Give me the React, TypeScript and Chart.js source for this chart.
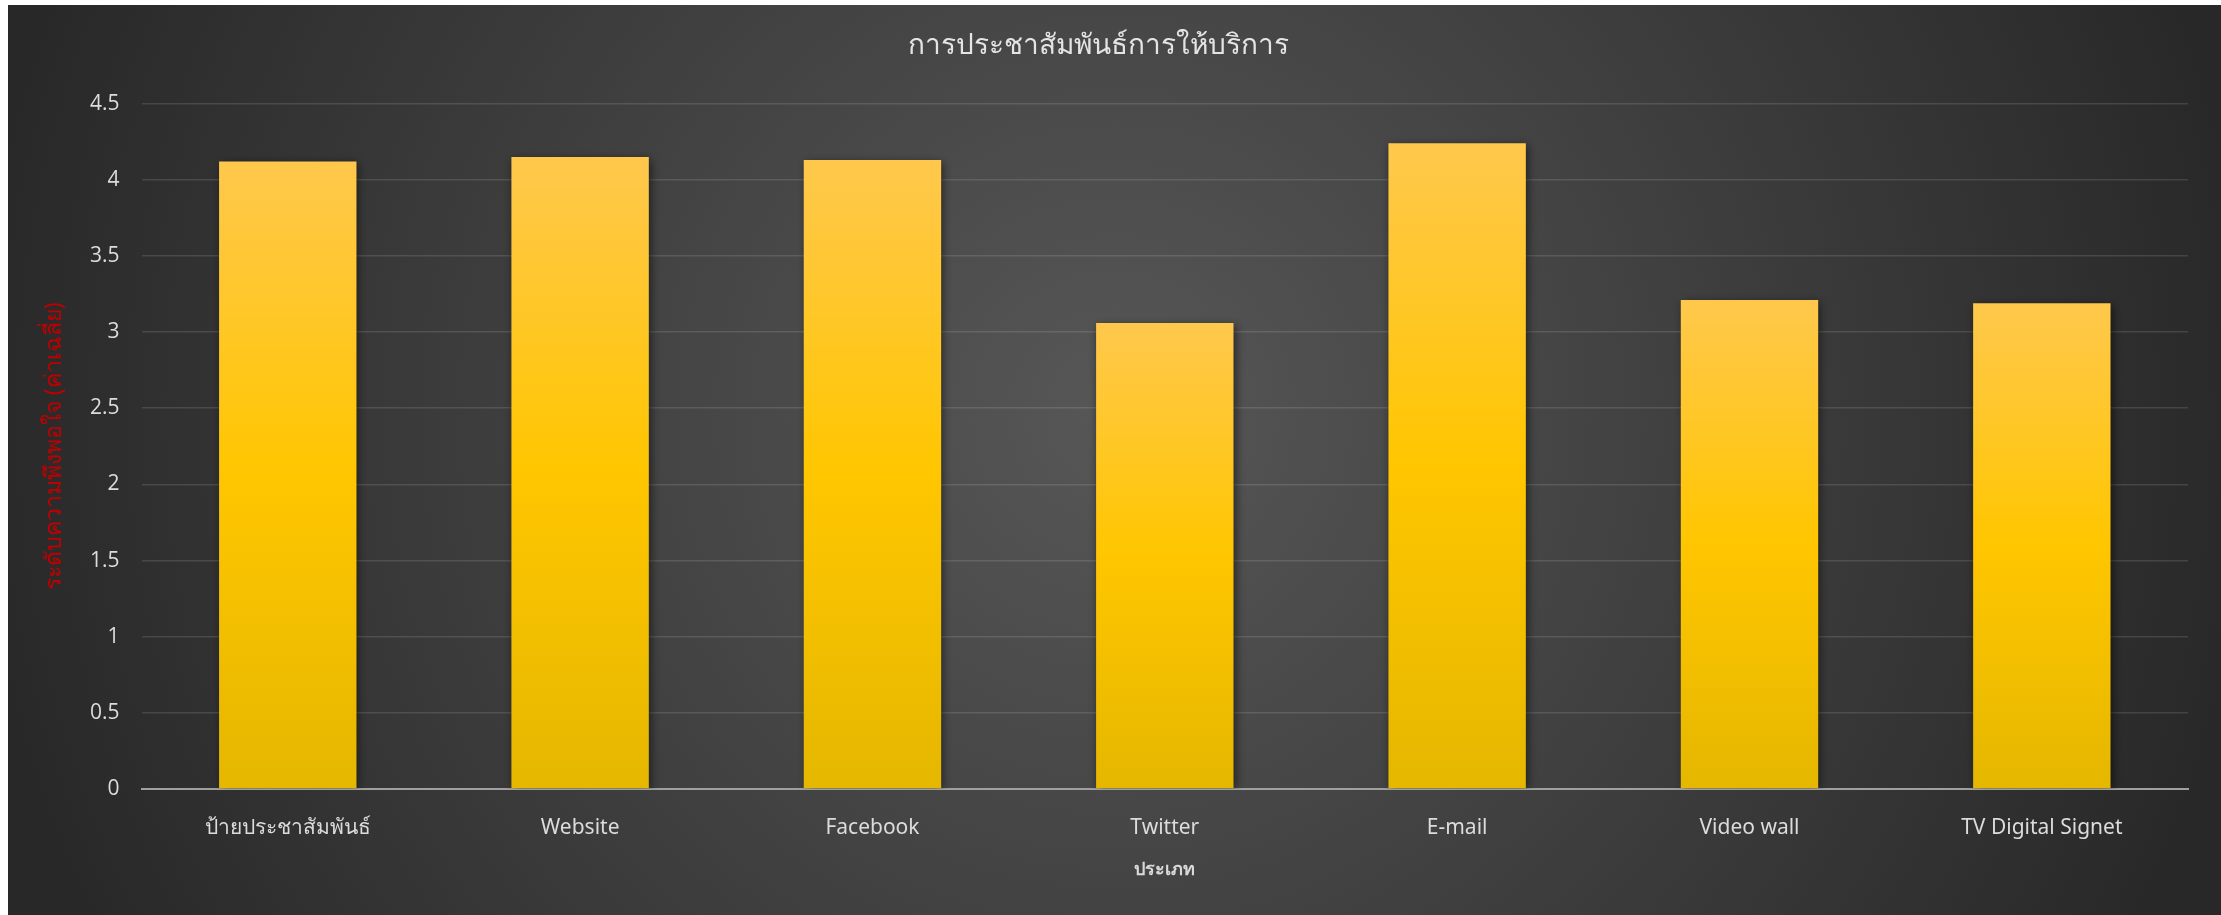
import React, { useEffect, useRef } from "react";
import { Chart, registerables } from "chart.js";

Chart.register(...registerables);

const chartTitle = "การประชาสัมพันธ์การให้บริการ";
const xAxisTitle = "ประเภท";
const yAxisTitle = "ระดับความพึงพอใจ (ค่าเฉลี่ย)";
const categories = ["ป้ายประชาสัมพันธ์", "Website", "Facebook", "Twitter", "E-mail", "Video wall", "TV Digital Signet"];
const satisfaction = [4.12, 4.15, 4.13, 3.06, 4.24, 3.21, 3.19];
const yTicks = [0, 0.5, 1, 1.5, 2, 2.5, 3, 3.5, 4, 4.5];

const W = 2213;
const H = 910;

const bgPlugin = {
  id: "bgPlugin",
  beforeDraw(chart: any) {
    const ctx = chart.ctx;
    const g = ctx.createRadialGradient(W * 0.5, H * 0.45, 0, W * 0.5, H * 0.45, W * 0.52);
    g.addColorStop(0, "#575757");
    g.addColorStop(1, "#282828");
    ctx.save();
    ctx.fillStyle = g;
    ctx.fillRect(0, 0, W, H);
    ctx.restore();
  },
  beforeDatasetDraw(chart: any) {
    const ctx = chart.ctx;
    ctx.save();
    ctx.shadowColor = "rgba(0,0,0,0.55)";
    ctx.shadowBlur = 9;
    ctx.shadowOffsetX = 2;
    ctx.shadowOffsetY = 2;
  },
  afterDatasetDraw(chart: any) {
    chart.ctx.restore();
  },
};

export default function App() {
  const ref = useRef<HTMLCanvasElement>(null);
  useEffect(() => {
    if (!ref.current) return;
    const chart = new Chart(ref.current, {
      type: "bar",
      data: {
        labels: categories,
        datasets: [
          {
            label: "ค่าเฉลี่ย",
            data: satisfaction,
            barPercentage: 0.47,
            categoryPercentage: 1,
            backgroundColor: (c: any) => {
              const ch = c.chart;
              const ys = ch.scales && ch.scales.y;
              if (!ys || c.parsed === undefined || c.parsed === null) return "#FFC600";
              const top = ys.getPixelForValue(c.parsed.y);
              const base = ys.getPixelForValue(0);
              if (!isFinite(top) || !isFinite(base) || top === base) return "#FFC600";
              const g = ch.ctx.createLinearGradient(0, top, 0, base);
              g.addColorStop(0, "#FFC84C");
              g.addColorStop(0.5, "#FFC600");
              g.addColorStop(1, "#E5B700");
              return g;
            },
            borderWidth: 0,
          },
        ],
      },
      options: {
        responsive: false,
        animation: false,
        layout: { padding: { left: 0, right: 33, top: 0, bottom: 0 } },
        plugins: {
          legend: { display: false },
          tooltip: { enabled: false },
          title: {
            display: true,
            text: chartTitle,
            color: "#e4e4e4",
            font: { family: "'Noto Sans', 'DejaVu Sans', sans-serif", size: 28, weight: "normal" },
            padding: { top: 24, bottom: 41 },
          },
        },
        scales: {
          x: {
            afterFit: (s: any) => {
              s.height = 126;
            },
            grid: { display: false, drawTicks: false },
            border: { display: true, color: "#a0a0a0", width: 2 },
            ticks: {
              color: "#dcdcdc",
              padding: 26,
              maxRotation: 0,
              font: { family: "'Noto Sans', sans-serif", size: 21 },
            },
            title: {
              display: true,
              text: xAxisTitle,
              color: "#d9d9d9",
              font: { family: "'Noto Sans', 'DejaVu Sans', sans-serif", size: 18, weight: "bold" },
              padding: { top: 0, bottom: 34 },
            },
          },
          y: {
            min: 0,
            max: 4.5,
            afterFit: (s: any) => {
              s.width = 133.6;
            },
            afterBuildTicks: (s: any) => {
              s.ticks = yTicks.map((v) => ({ value: v }));
            },
            grid: { color: "rgba(255,255,255,0.12)", lineWidth: 1.5, drawTicks: false },
            border: { display: false },
            ticks: {
              color: "#dcdcdc",
              padding: 22,
              font: { family: "'Open Sans', 'Noto Sans', sans-serif", size: 21 },
              callback: (v: any) => String(v),
            },
            title: {
              display: true,
              text: yAxisTitle,
              color: "#c00000",
              font: { family: "'Noto Sans', 'DejaVu Sans', sans-serif", size: 23 },
              padding: { top: 33, bottom: 0 },
            },
          },
        },
      },
      plugins: [bgPlugin],
    });
    return () => chart.destroy();
  }, []);
  return (
    <div style={{ position: "fixed", left: 8, top: 5, width: W, height: H }}>
      <canvas ref={ref} width={W} height={H} style={{ width: W, height: H, display: "block" }} />
    </div>
  );
}
